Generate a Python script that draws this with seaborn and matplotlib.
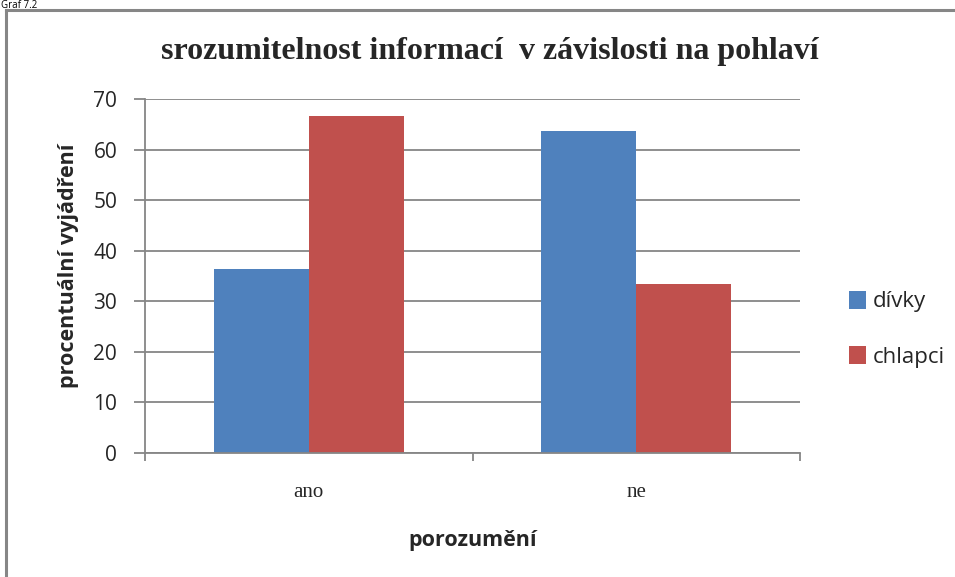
import matplotlib
matplotlib.use("Agg")
import matplotlib.pyplot as plt
import seaborn as sns
import pandas as pd
from matplotlib.lines import Line2D

# data
categories = ["ano", "ne"]
divky = [36.36, 63.64]
chlapci = [66.67, 33.33]
series_names = ["dívky", "chlapci"]

df = pd.DataFrame({
    "porozumeni": categories * 2,
    "hodnota": divky + chlapci,
    "pohlavi": [series_names[0]] * 2 + [series_names[1]] * 2,
})

sns.set_style("white")
plt.rcParams['font.family'] = ['DejaVu Sans']

fig = plt.figure(figsize=(9.55, 5.77), dpi=100)
ax = fig.add_axes([145/955, 1 - 453/577, 655/955, 354/577])

sns.barplot(data=df, x="porozumeni", y="hodnota", hue="pohlavi",
            palette=["#4F81BD", "#C0504D"], width=0.58, saturation=1,
            linewidth=0, ax=ax, legend=True)

ax.set_ylim(0, 70)
ax.set_yticks(range(0, 71, 10))
ax.set_xlim(-0.5, 1.5)
ax.yaxis.grid(True, color="#868686", lw=1.3)
ax.set_axisbelow(True)
for s in ["top", "right"]:
    ax.spines[s].set_visible(False)
for s in ["left", "bottom"]:
    ax.spines[s].set_color("#868686")
    ax.spines[s].set_linewidth(1.3)
ax.tick_params(axis="y", left=True, length=8, color="#868686", width=1.3,
               labelsize=15, pad=12)
ax.tick_params(axis="x", bottom=False, labelsize=15, pad=18)
for t in ax.get_yticklabels():
    t.set_family("Open Sans")
for t in ax.get_xticklabels():
    t.set_family("Liberation Serif")
# small ticks at the category boundaries
ax.set_xticks([-0.5, 0.5, 1.5], minor=True)
ax.tick_params(axis="x", which="minor", bottom=True, length=6,
               color="#868686", width=1.3)

ax.set_xlabel("porozumění", fontsize=15.5, fontweight="bold",
              family="Open Sans", labelpad=20)
ax.set_ylabel("procentuální vyjádření", fontsize=15.5, fontweight="bold",
              family="Open Sans", labelpad=10)
ax.yaxis.label.set_y(0.53)

fig.text(490/955, 1 - 51/577, "srozumitelnost informací  v závislosti na pohlaví",
         ha="center", va="center", fontsize=23, fontweight="bold",
         family="Liberation Serif")
fig.text(1/955, 1 - 0.5/577, "Graf 7.2", ha="left", va="top", fontsize=7,
         family="Open Sans", color="black")

ax.legend(loc="center left", bbox_to_anchor=(1.045, 0.35), frameon=False,
          handlelength=0.75, handleheight=0.9, labelspacing=1.5,
          handletextpad=0.3,
          prop={"family": "Open Sans", "size": 16})

# outer chart frame: only the top and left edges fall inside the image
top = 1 - 10/577
left = 6/955
fig.add_artist(Line2D([left, 1.0], [top, top], transform=fig.transFigure,
                      color="#868686", lw=2.2, solid_capstyle="projecting"))
fig.add_artist(Line2D([left, left], [0.0, top], transform=fig.transFigure,
                      color="#868686", lw=2.2, solid_capstyle="projecting"))

fig.savefig("out.png", dpi=100)
